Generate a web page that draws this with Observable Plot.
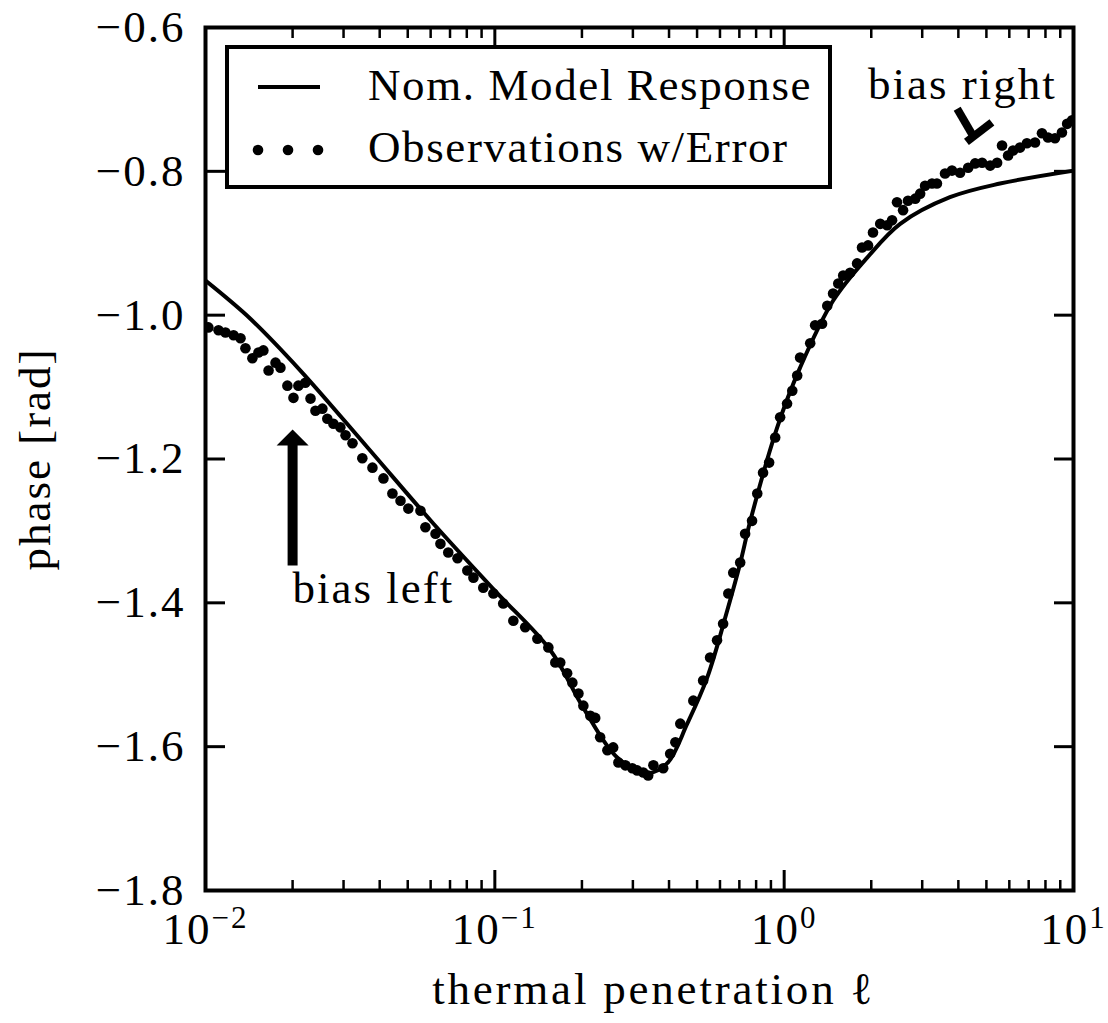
<!DOCTYPE html>
<html><head><meta charset="utf-8">
<script src="https://cdn.jsdelivr.net/npm/d3@7"></script>
<script src="https://cdn.jsdelivr.net/npm/@observablehq/plot@0.6"></script>
<style>html,body{margin:0;padding:0;background:#fff;overflow:hidden}</style>
</head><body><div id="chart"></div>
<script>
// Nominal model response (log10 of thermal penetration, phase in rad)
const modelLog10X = [-2.000,-1.845,-1.672,-1.440,-1.212,-1.000,-0.808,-0.694,-0.577,-0.473,-0.404,-0.335,-0.266,-0.197,-0.152,-0.117,-0.024,0.055,0.169,0.287,0.401,0.573,0.746,1.000];
const modelPhase  = [-0.952,-1.005,-1.077,-1.184,-1.290,-1.383,-1.466,-1.546,-1.615,-1.637,-1.623,-1.568,-1.504,-1.411,-1.345,-1.286,-1.156,-1.073,-0.980,-0.920,-0.873,-0.836,-0.817,-0.799];

// Observations with error
const obsLog10X = [-1.990,-1.955,-1.931,-1.903,-1.879,-1.862,-1.838,-1.817,-1.800,-1.782,-1.758,-1.741,-1.717,-1.696,-1.679,-1.655,-1.637,-1.620,-1.596,-1.579,-1.558,-1.534,-1.516,-1.492,
 -1.458,-1.423,-1.385,-1.354,-1.326,-1.299,-1.257,-1.240,-1.205,-1.188,-1.161,-1.129,-1.095,-1.074,-1.040,-1.005,-0.971,
 -0.936,-0.895,-0.853,-0.815,-0.791,-0.774,-0.750,-0.732,-0.711,-0.694,-0.670,-0.653,-0.636,-0.611,-0.591,-0.573,-0.549,-0.525,-0.508,-0.487,-0.470,-0.452,-0.418,-0.394,-0.376,-0.359,
 -0.314,-0.280,-0.256,-0.232,-0.211,-0.193,-0.176,-0.152,-0.135,-0.111,-0.093,-0.073,-0.052,-0.031,-0.014,0.010,0.028,0.045,0.055,
 0.090,0.107,0.131,0.149,0.169,0.187,0.204,0.228,0.252,0.269,0.290,0.307,0.332,0.356,0.373,0.390,0.411,0.428,0.453,0.470,0.487,0.511,0.528,
 0.556,0.580,0.608,0.636,0.660,0.684,0.712,0.736,0.753,0.774,0.791,0.815,0.839,0.867,0.891,0.912,0.936,0.960,0.978,0.995];
const obsPhase = [-1.017,-1.021,-1.024,-1.028,-1.032,-1.046,-1.060,-1.052,-1.049,-1.077,-1.066,-1.073,-1.098,-1.115,-1.098,-1.094,-1.116,-1.133,-1.130,-1.144,-1.151,-1.156,-1.167,-1.178,
 -1.199,-1.212,-1.227,-1.248,-1.258,-1.269,-1.272,-1.295,-1.304,-1.318,-1.330,-1.338,-1.355,-1.365,-1.379,-1.387,-1.401,
 -1.425,-1.434,-1.450,-1.462,-1.483,-1.483,-1.498,-1.511,-1.526,-1.543,-1.557,-1.560,-1.587,-1.605,-1.601,-1.622,-1.626,-1.630,-1.633,-1.636,-1.640,-1.626,-1.630,-1.610,-1.594,-1.568,
 -1.536,-1.508,-1.476,-1.452,-1.429,-1.387,-1.358,-1.344,-1.304,-1.286,-1.248,-1.219,-1.205,-1.170,-1.142,-1.123,-1.105,-1.084,-1.059,
 -1.039,-1.014,-1.012,-0.987,-0.970,-0.956,-0.945,-0.941,-0.928,-0.906,-0.903,-0.885,-0.873,-0.875,-0.868,-0.843,-0.854,-0.841,-0.838,-0.831,-0.820,-0.817,-0.817,
 -0.803,-0.799,-0.802,-0.795,-0.789,-0.788,-0.792,-0.788,-0.764,-0.778,-0.771,-0.767,-0.761,-0.760,-0.747,-0.753,-0.754,-0.746,-0.734,-0.729];

// Ticks and labels
const yTicks = [-1.8,-1.6,-1.4,-1.2,-1.0,-0.8,-0.6];
const xMajorTicks = [0.01,0.1,1,10];
const xMinorTicks = [0.02,0.03,0.04,0.05,0.06,0.07,0.08,0.09,0.2,0.3,0.4,0.5,0.6,0.7,0.8,0.9,2,3,4,5,6,7,8,9];
const xLabel = "thermal penetration ℓ";
const yLabel = "phase [rad]";
const legendLabels = ["Nom. Model Response","Observations w/Error"];

// Annotations
const annotationTexts = ["bias left","bias right"];
const annotationX = [0.02, 1.95];
const annotationY = [-1.40, -0.70];
const leftArrowShaft = [{x1:0.02,y1:-1.348,x2:0.02,y2:-1.178}];
const leftArrowTip = [{x:0.02,y:-1.159}];
const rightArrowSegments = [
  {x1:Math.pow(10,0.598),y1:-0.713,x2:Math.pow(10,0.653),y2:-0.751},
  {x1:Math.pow(10,0.630),y1:-0.759,x2:Math.pow(10,0.718),y2:-0.732}
];

const model = modelLog10X.map((l,i)=>({x:Math.pow(10,l), y:modelPhase[i]}));
const obs = obsLog10X.map((l,i)=>({x:Math.pow(10,l), y:obsPhase[i]}));
const annotations = annotationTexts.map((t,i)=>({text:t, x:annotationX[i], y:annotationY[i]}));

const FONT = "'Liberation Serif','Times New Roman',serif";
const arrowHead = {draw(ctx){ ctx.moveTo(0,0); ctx.lineTo(-16,16); ctx.lineTo(16,16); ctx.closePath(); }};
const minus = s => s.replace("-","\u2212");

const plot = Plot.plot({
  width:1108, height:1023,
  marginLeft:205, marginRight:35, marginTop:27, marginBottom:133,
  style:{fontFamily:FONT, fontSize:"45px", background:"#fff", color:"#000", letterSpacing:"2px"},
  x:{type:"log", domain:[0.01,10], label:null},
  y:{domain:[-1.8,-0.6], label:null},
  marks:[
    Plot.line(model,{x:"x",y:"y",stroke:"#000",strokeWidth:4,curve:"catmull-rom",clip:true}),
    Plot.dot(obs,{x:"x",y:"y",r:5.3,fill:"#000",stroke:null,clip:true}),
    Plot.link(leftArrowShaft,{x1:"x1",y1:"y1",x2:"x2",y2:"y2",stroke:"#000",strokeWidth:10}),
    Plot.dot(leftArrowTip,{x:"x",y:"y",symbol:arrowHead,r:10,fill:"#000",stroke:null}),
    Plot.link(rightArrowSegments,{x1:"x1",y1:"y1",x2:"x2",y2:"y2",stroke:"#000",strokeWidth:8}),
    Plot.text(annotations,{x:"x",y:"y",text:"text",textAnchor:"start",lineAnchor:"bottom",fontSize:45}),
    Plot.axisY({ticks:yTicks,anchor:"left",tickSize:-20,tickPadding:40,strokeWidth:3,tickFormat:d=>minus(d.toFixed(1)),fontSize:45,label:null}),
    Plot.axisY({ticks:yTicks,anchor:"right",tickSize:-20,strokeWidth:3,tickFormat:()=>"",label:null}),
    Plot.axisX({ticks:xMajorTicks,anchor:"bottom",tickSize:-20,tickPadding:42,strokeWidth:3,tickFormat:d=>minus(String(Math.round(Math.log10(d)))),fontSize:45,label:null}),
    Plot.axisX({ticks:xMinorTicks,anchor:"bottom",tickSize:-10,strokeWidth:2.5,tickFormat:()=>"",label:null}),
    Plot.axisX({ticks:xMajorTicks,anchor:"top",tickSize:-20,strokeWidth:3,tickFormat:()=>"",label:null}),
    Plot.axisX({ticks:xMinorTicks,anchor:"top",tickSize:-10,strokeWidth:2.5,tickFormat:()=>"",label:null}),
    Plot.frame({stroke:"#000",strokeWidth:4}),
    Plot.text([yLabel],{frameAnchor:"left",text:d=>d,rotate:-90,textAnchor:"middle",lineAnchor:"middle",dx:-170,fontSize:45}),
    Plot.text([xLabel],{frameAnchor:"bottom",text:d=>d,textAnchor:"middle",lineAnchor:"bottom",dx:14,dy:113,fontSize:45})
  ]
});

// superscript exponents for log tick labels
d3.select(plot).selectAll('g[aria-label="x-axis tick label"] text').each(function(){
  const exp = this.textContent;
  if (!exp) return;
  const t = d3.select(this);
  t.text(null);
  t.append("tspan").text("10");
  t.append("tspan").attr("font-size",31).attr("dy",-16).text(exp);
});
// axis label letter spacing closer to the reference
d3.select(plot).selectAll('g[aria-label="text"] text').filter(function(){ return this.textContent === xLabel; }).style("letter-spacing","2.8px");

// legend
const svg = d3.select(plot);
const lg = svg.append("g").attr("font-size",45).attr("text-anchor","start").style("letter-spacing","1.6px");
lg.append("rect").attr("x",227).attr("y",47).attr("width",603).attr("height",140)
  .attr("fill","#fff").attr("stroke","#000").attr("stroke-width",4);
lg.append("line").attr("x1",258).attr("x2",320).attr("y1",87).attr("y2",87)
  .attr("stroke","#000").attr("stroke-width",4);
[258,288,318].forEach(cx=>lg.append("circle").attr("cx",cx).attr("cy",150).attr("r",5.3).attr("fill","#000"));
lg.append("text").attr("x",368).attr("y",100).text(legendLabels[0]);
lg.append("text").attr("x",368).attr("y",162).text(legendLabels[1]);

document.getElementById("chart").appendChild(plot);
</script>
</body></html>
